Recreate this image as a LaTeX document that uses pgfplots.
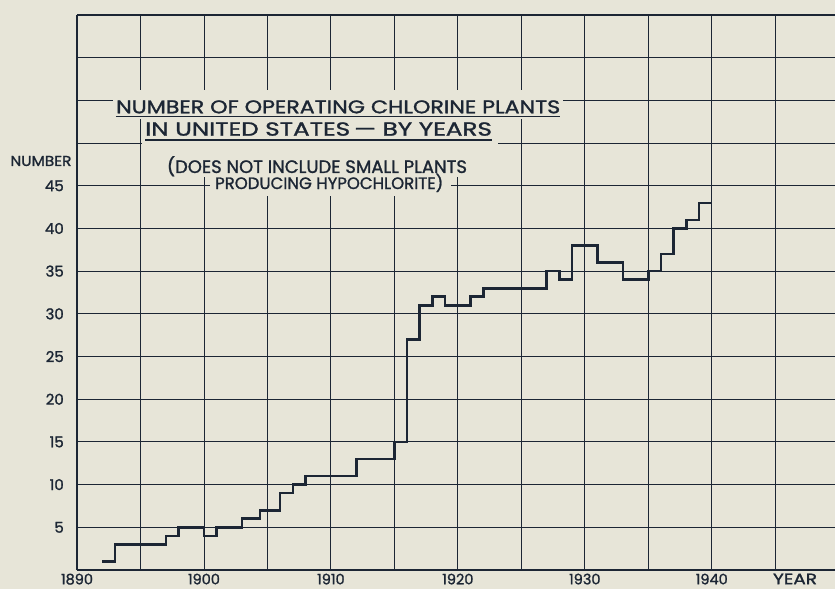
\documentclass[border=0pt]{standalone}
\usepackage{fontspec}
\setmainfont{Poppins}
\newfontfamily\med{Poppins}[FakeBold=1.3]
\usepackage{graphicx}
\usepackage{pgfplots}
\pgfplotsset{compat=1.18}
\definecolor{bg}{RGB}{231,229,216}
\definecolor{ink}{RGB}{28,38,52}
\begin{document}
\begin{tikzpicture}
\fill[bg] (-77pt,-19pt) rectangle (758pt,570pt);
\begin{axis}[
  at={(0,0)}, anchor=south west,
  scale only axis, width=757.9pt, height=555pt,
  xmin=1890, xmax=1949.7, ymin=0, ymax=65,
  axis x line*=bottom, axis y line*=left,
  axis line style={-, ink, line width=1.8pt},
  xtick={1890,1900,...,1940}, xticklabels={1890,1900,1910,1920,1930,1940},
  extra x ticks={1895,1905,...,1945}, extra x tick labels={},
  ytick={5,10,...,45}, yticklabels={5,10,15,20,25,30,35,40,45},
  extra y ticks={50,55,60}, extra y tick labels={},
  grid=major, major grid style={ink, line width=0.9pt},
  extra tick style={grid=major},
  tick style={draw=none},
  major tick length=0pt,
  xticklabel style={anchor=north, inner sep=0pt, yshift=-3.5pt, text=ink, font=\fontsize{14.5}{15}\med\selectfont},
  yticklabel style={anchor=east, inner sep=0pt, xshift=-13pt, text=ink, font=\fontsize{15}{16}\med\selectfont},
  clip=false,
]
\addplot[const plot, ink, line width=2.6pt, line join=miter, mark=none] coordinates {
(1892,1) (1893,3) (1897,4) (1898,5) (1900,4) (1901,5) (1903,6) (1904.4,7)
(1906,9) (1907,10) (1908,11) (1912,13) (1915,15) (1916,27) (1917,31) (1918,32)
(1919,31) (1921,32) (1922,33) (1927,35) (1928,34) (1929,38) (1931,36) (1933,34)
(1935,35) (1936,37) (1937,40) (1938,41) (1939,43) (1940,43)
};
% top border
\draw[ink, line width=1.8pt] (rel axis cs:0,1) -- (rel axis cs:1,1);
% blocks hiding grid behind titles
\fill[bg] (axis cs:1892.84,52.8) rectangle (axis cs:1928.29,56.2);
\fill[bg] (axis cs:1895.12,49.75) rectangle (axis cs:1923.16,52.9);
\fill[bg] (axis cs:1896.54,46.0) rectangle (axis cs:1920.96,49.8);
\fill[bg] (axis cs:1900.48,43.8) rectangle (axis cs:1919.44,46.1);
% title
\node[anchor=base west, inner sep=0pt, text=ink] at (axis cs:1893.07,53.49) {\resizebox{444pt}{13pt}{\med NUMBER OF OPERATING CHLORINE PLANTS}};
\draw[ink, line width=1.4pt] (axis cs:1893.07,53.09) -- (axis cs:1928.05,53.09);
\node[anchor=base west, inner sep=0pt, text=ink] at (axis cs:1895.36,50.87) {\resizebox{346.7pt}{13.4pt}{\med IN UNITED STATES\,— BY YEARS}};
\draw[ink, line width=1.4pt] (axis cs:1895.36,50.36) -- (axis cs:1922.67,50.36);
\node[anchor=base west, inner sep=0pt, text=ink] at (axis cs:1897.07,46.5) {\resizebox{300pt}{!}{\med (DOES NOT INCLUDE SMALL PLANTS}};
\node[anchor=base west, inner sep=0pt, text=ink] at (axis cs:1900.87,44.62) {\resizebox{228pt}{!}{\med PRODUCING HYPOCHLORITE)}};
% axis labels
\node[anchor=base east, inner sep=0pt, text=ink] at (axis cs:1889.58,47.32) {\resizebox{61pt}{10pt}{\med NUMBER}};
\node[anchor=north, inner sep=0pt, text=ink, yshift=-3.5pt] at (axis cs:1946.56,0) {\resizebox{44pt}{10.5pt}{\med YEAR}};
\end{axis}
\pgfresetboundingbox
\useasboundingbox (-77pt,-19pt) rectangle (758pt,570pt);
\end{tikzpicture}
\end{document}
